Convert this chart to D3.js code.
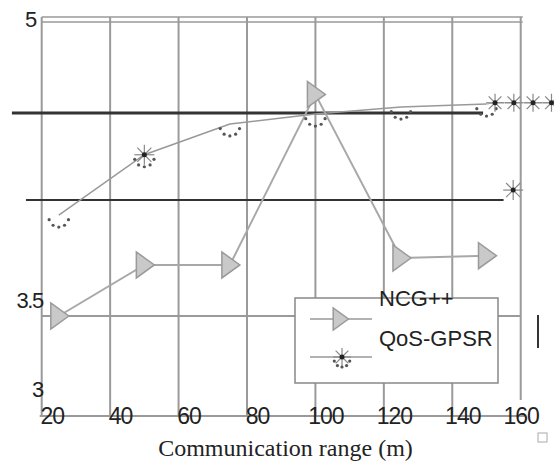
<!DOCTYPE html>
<html>
<head>
<meta charset="utf-8">
<script src="https://cdn.jsdelivr.net/npm/d3@7"></script>
<style>
body { margin: 0; background: #fff; }
svg { display: block; }
</style>
</head>
<body>
<svg width="554" height="467"></svg>
<script>
// communication range (m) of each measured point
let xValues = [25, 50, 75, 100, 125, 150];
let ncgValues = [3.50, 3.72, 3.72, 4.60, 3.75, 3.76];
let qosValues = [3.935, 4.26, 4.437, 4.494, 4.532, 4.548];
let qosStarShown = [false, true, false, false, false, false]; // only one star survived the scan
// stray asterisks right of the plot
let qosTailX = [152.5, 158, 163.6, 169];
let qosTailY = [4.555, 4.555, 4.555, 4.555];
let strayStarX = [157.8];
let strayStarY = [4.057];

let xTicks = [20, 40, 60, 80, 100, 120, 140, 160];
let yTicks = [5, 3.5, 3];
let seriesNames = ["NCG++", "QoS-GPSR"];
let xTitle = "Communication range (m)";

// horizontal rules (value, and where they start/stop in x units)
let ruleValues = [4.5, 4, 3.5];
let ruleFrom = [11.3, 15.4, 20];
let ruleTo = [149, 155, 160];

var svg = d3.select("svg");
var sans = "Liberation Sans, Arial, sans-serif";

svg.append("rect").attr("width", 554).attr("height", 467).attr("fill", "#fff");

var x = d3.scaleLinear()
          .domain([20, 160])
          .range([41.7, 520.7]);

// scanned figure is warped, so a piecewise scale keeps the rules where they are
var y = d3.scaleLinear()
          .domain([3, 3.5, 4, 4.5, 5])
          .range([416, 316, 200, 113, 20]);

// vertical grid
svg.append("g")
   .selectAll("line")
   .data(xTicks)
   .join("line")
   .attr("x1", d => x(d))
   .attr("x2", d => x(d))
   .attr("y1", y(5) - 3)
   .attr("y2", (d, i) => i == xTicks.length - 1 ? y(3.08) : y(3))
   .attr("stroke", "#9a9a9a")
   .attr("stroke-width", 2);

// double rule on top
[-3, 2].forEach(function(off) {
    svg.append("line")
       .attr("x1", x(20)).attr("x2", x(160) + 2)
       .attr("y1", y(5) + off).attr("y2", y(5) + off)
       .attr("stroke", "#9a9a9a")
       .attr("stroke-width", 1.5);
});

// horizontal rules
ruleValues.forEach(function(v, i) {
    svg.append("line")
       .attr("x1", x(ruleFrom[i])).attr("x2", x(ruleTo[i]))
       .attr("y1", y(v)).attr("y2", y(v))
       .attr("stroke", i < 2 ? "#333" : "#9a9a9a")
       .attr("stroke-width", i == 0 ? 3 : 2);
});

// bottom axis line
svg.append("line")
   .attr("x1", x(20) - 2).attr("x2", x(160) + 4)
   .attr("y1", y(3)).attr("y2", y(3))
   .attr("stroke", "#9a9a9a")
   .attr("stroke-width", 2);

// x tick labels sit right on the axis line
var xAxis = svg.append("g")
   .attr("transform", "translate(0," + y(3) + ")")
   .call(d3.axisBottom(x).tickValues(xTicks).tickSize(0).tickFormat(d3.format("d")));
xAxis.select(".domain").remove();
xAxis.selectAll("text")
     .attr("y", 0)
     .attr("dy", "0.35em")
     .attr("dx", (d, i) => i == xTicks.length - 1 ? 0 : 10)
     .attr("font-size", 23)
     .attr("font-family", sans)
     .attr("letter-spacing", -1)
     .attr("fill", "#222");

// y tick labels (offsets as they were printed)
var yLabelDy = [7, -8, -19];
var yLabelDx = [-7, 0, 0];
svg.append("g")
   .selectAll("text")
   .data(yTicks)
   .join("text")
   .attr("x", (d, i) => x(20) + 1 + yLabelDx[i])
   .attr("y", (d, i) => y(d) + yLabelDy[i])
   .attr("text-anchor", "end")
   .attr("font-size", 22)
   .attr("font-family", sans)
   .attr("letter-spacing", -1.5)
   .attr("fill", "#222")
   .text(d => d);

// axis title
svg.append("text")
   .attr("x", 285.5)
   .attr("y", 456)
   .attr("text-anchor", "middle")
   .attr("font-size", 24)
   .attr("font-family", "Liberation Serif, Times New Roman, serif")
   .attr("fill", "#222")
   .text(xTitle);

// series lines
var ncgLine = d3.line()
    .x((d, i) => x(xValues[i]))
    .y(d => y(d));

svg.append("path")
   .datum(qosValues)
   .attr("fill", "none")
   .attr("stroke", "#999")
   .attr("stroke-width", 1.5)
   .attr("d", ncgLine);

// thin line running out through the stray stars
var tail = [[xValues[xValues.length - 1], qosValues[qosValues.length - 1]]]
    .concat(qosTailX.map((v, i) => [v, qosTailY[i]]));
svg.append("path")
   .datum(tail)
   .attr("fill", "none")
   .attr("stroke", "#aaa")
   .attr("stroke-width", 1)
   .attr("d", d3.line().x(d => x(d[0])).y(d => y(d[1])));

svg.append("path")
   .datum(ncgValues)
   .attr("fill", "none")
   .attr("stroke", "#a8a8a8")
   .attr("stroke-width", 2)
   .attr("d", ncgLine);

function drawTriangle(parent, cx, cy, s) {
    let pts = [[-8, -13], [-8, 13], [10, 0]].map(p => [cx + p[0] * s, cy + p[1] * s]);
    parent.append("path")
          .attr("d", d3.line()(pts) + "Z")
          .attr("fill", "#c9c9c9")
          .attr("stroke", "#9a9a9a")
          .attr("stroke-width", 1.5);
}

function drawStar(parent, cx, cy, r) {
    let g = parent.append("g");
    g.selectAll("line")
     .data(d3.range(8))
     .join("line")
     .attr("x1", cx).attr("y1", cy)
     .attr("x2", a => cx + r * Math.cos(a * Math.PI / 4))
     .attr("y2", a => cy + r * Math.sin(a * Math.PI / 4))
     .attr("stroke", "#888")
     .attr("stroke-width", 1.2);
    g.append("circle").attr("cx", cx).attr("cy", cy).attr("r", 2.5).attr("fill", "#222");
}

function drawDots(parent, cx, cy, r) {
    parent.append("g")
          .selectAll("circle")
          .data([165, 125, 90, 55, 15])
          .join("circle")
          .attr("cx", a => cx + r * Math.cos(a * Math.PI / 180))
          .attr("cy", a => cy + r * Math.sin(a * Math.PI / 180))
          .attr("r", 1.6)
          .attr("fill", "#555");
}

// QoS-GPSR markers
qosValues.forEach(function(v, i) {
    if (qosStarShown[i]) drawStar(svg, x(xValues[i]), y(v), 10);
    drawDots(svg, x(xValues[i]), y(v) + 2, 10);
});
qosTailX.forEach((v, i) => drawStar(svg, x(v), y(qosTailY[i]), 9));
strayStarX.forEach((v, i) => drawStar(svg, x(v), y(strayStarY[i]), 10));

// NCG++ markers
ncgValues.forEach((v, i) => drawTriangle(svg, x(xValues[i]), y(v), 1));

// legend
var legend = svg.append("g").attr("transform", "translate(295,298)");
legend.append("rect")
      .attr("width", 203)
      .attr("height", 85)
      .attr("fill", "#fff")
      .attr("stroke", "#888")
      .attr("stroke-width", 1.5);
[21, 59].forEach(function(ly, i) {
    legend.append("line")
          .attr("x1", 15).attr("x2", 77)
          .attr("y1", ly).attr("y2", ly)
          .attr("stroke", "#999")
          .attr("stroke-width", 1.5);
    if (i == 0) drawTriangle(legend, 45, ly, 0.85);
    else { drawStar(legend, 47, ly, 9); drawDots(legend, 47, ly + 2, 8); }
});
legend.selectAll("text.lab")
      .data(seriesNames)
      .join("text")
      .attr("class", "lab")
      .attr("x", 84)
      .attr("y", (d, i) => i == 0 ? 8 : 48)
      .attr("font-size", 22)
      .attr("font-family", sans)
      .attr("fill", "#222")
      .text(d => d);

// leftover scan marks on the right edge
svg.append("line")
   .attr("x1", x(165.06)).attr("x2", x(165.06))
   .attr("y1", y(3.5) - 1).attr("y2", y(3.34))
   .attr("stroke", "#333")
   .attr("stroke-width", 2);
svg.append("rect")
   .attr("x", x(165.06)).attr("y", y(2.915))
   .attr("width", 9).attr("height", 9)
   .attr("fill", "none")
   .attr("stroke", "#aaa")
   .attr("stroke-width", 1);
</script>
</body>
</html>
